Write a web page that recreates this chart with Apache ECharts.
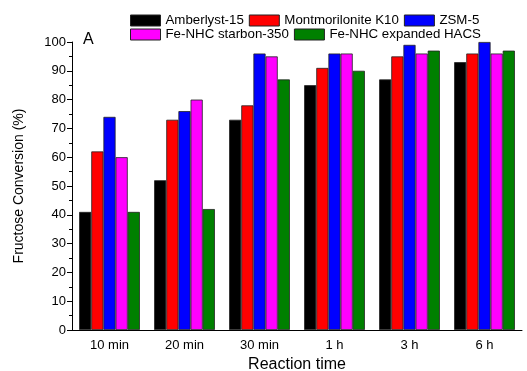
<!DOCTYPE html>
<html>
<head>
<meta charset="utf-8">
<script src="https://cdn.jsdelivr.net/npm/echarts@6/dist/echarts.min.js"></script>
<style>
  html, body { margin: 0; padding: 0; background: #fff; }
  #chart { width: 527px; height: 371px; }
</style>
</head>
<body>
<div id="chart"></div>
<script>
// Reaction times on the category axis
const categories = ['10 min', '20 min', '30 min', '1 h', '3 h', '6 h'];

// Fructose conversion (%) per catalyst
const amberlyst15   = [41, 52, 73, 85, 87, 93];
const montmorillon  = [62, 73, 78, 91, 95, 96];
const zsm5          = [74, 76, 96, 96, 99, 100];
const starbon350    = [60, 80, 95, 96, 96, 96];
const expandedHacs  = [41, 42, 87, 90, 97, 97];

const seriesNames = ['Amberlyst-15', 'Montmorilonite K10', 'ZSM-5',
                     'Fe-NHC starbon-350', 'Fe-NHC expanded HACS'];
const seriesData = [amberlyst15, montmorillon, zsm5, starbon350, expandedHacs];
const seriesColors = ['#000000', '#ff0000', '#0000ff', '#ff00ff', '#008000'];

const yTicks = [0, 10, 20, 30, 40, 50, 60, 70, 80, 90, 100];

const font = 'Liberation Sans, Arial, sans-serif';
const chart = echarts.init(document.getElementById('chart'), null, { renderer: 'canvas' });

const legendCommon = {
  padding: 0,
  itemWidth: 30,
  itemHeight: 11,
  itemGap: 5,
  icon: 'rect',
  textStyle: { fontFamily: font, fontSize: 13.3, color: '#000', padding: [0, 0, 0, 0] },
  itemStyle: { borderColor: '#222', borderWidth: 1 }
};

chart.setOption({
  animation: false,
  backgroundColor: '#ffffff',
  grid: { left: 72, right: 5, top: 42, bottom: 41, outerBoundsMode: 'none' },
  legend: [
    Object.assign({ left: 130, top: 14, data: seriesNames.slice(0, 3) }, legendCommon),
    Object.assign({ left: 130, top: 28, data: seriesNames.slice(3) }, legendCommon)
  ],
  graphic: [{
    type: 'text', left: 83, top: 32,
    style: { text: 'A', font: '16px ' + font, fill: '#000' }
  }],
  xAxis: [{
    type: 'category',
    data: categories,
    name: 'Reaction time',
    nameLocation: 'middle',
    nameGap: 24,
    nameTextStyle: { fontFamily: font, fontSize: 16, color: '#000' },
    axisLine: { lineStyle: { color: '#000', width: 1 } },
    axisTick: { alignWithLabel: true, length: 5, lineStyle: { color: '#000' } },
    axisLabel: { fontFamily: font, fontSize: 13, color: '#000', margin: 9 }
  }, {
    type: 'category',
    data: categories,
    position: 'bottom',
    axisLine: { show: false },
    axisTick: { length: 3, lineStyle: { color: '#000' } },
    axisLabel: { show: false }
  }],
  yAxis: {
    type: 'value',
    min: 0, max: 100, interval: 10,
    name: 'Fructose Conversion (%)',
    nameLocation: 'middle',
    nameGap: 46,
    nameTextStyle: { fontFamily: font, fontSize: 14, color: '#000' },
    axisLine: { show: true, lineStyle: { color: '#000', width: 1 } },
    axisTick: { show: true, length: 5, lineStyle: { color: '#000' } },
    minorTick: { show: true, splitNumber: 2, length: 3, lineStyle: { color: '#000' } },
    splitLine: { show: false },
    axisLabel: {
      fontFamily: font, fontSize: 13, color: '#000', margin: 6,
      formatter: v => (yTicks.includes(v) ? String(v) : '')
    }
  },
  series: seriesNames.map((name, i) => ({
    name,
    type: 'bar',
    data: seriesData[i],
    barGap: '0%',
    barCategoryGap: '19%',
    itemStyle: { color: seriesColors[i], borderColor: '#222', borderWidth: 0.8 }
  }))
});
</script>
</body>
</html>
